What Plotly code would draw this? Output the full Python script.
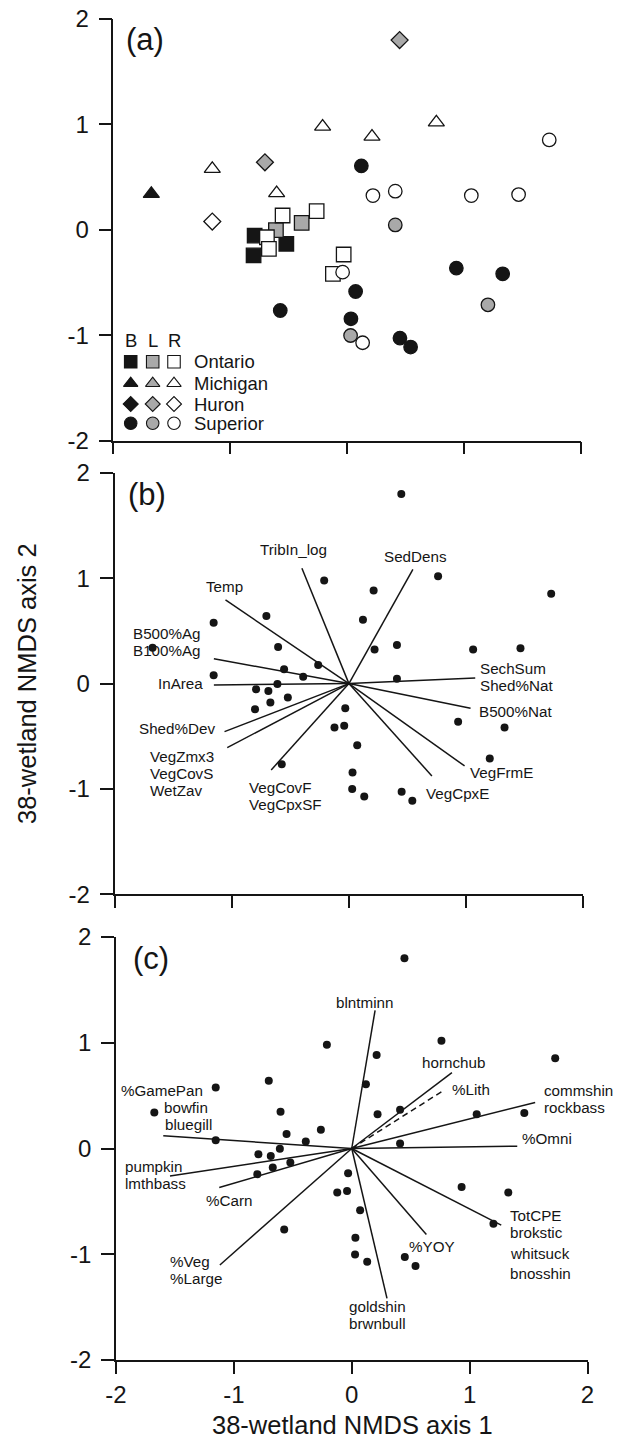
import plotly.graph_objects as go

# ---------------- data ----------------
site_x = [0.447, -0.211, 0.211, 0.761, 1.726, -1.154, -0.704, 0.120, -1.675, -0.604,
          0.219, 0.410, 1.060, 1.464, -1.154, -0.553, -0.262, -0.390, -0.610, 0.410,
          -0.792, -0.687, -0.521, -0.670, -0.801, -0.031, -0.123, -0.040, 0.932, 1.328,
          0.071, 1.202, -0.573, 0.031, 0.028, 0.131, 0.450, 0.541]
site_y = [1.800, 0.980, 0.885, 1.020, 0.853, 0.578, 0.641, 0.607, 0.341, 0.348,
          0.325, 0.367, 0.325, 0.335, 0.079, 0.136, 0.177, 0.066, -0.003, 0.047,
          -0.054, -0.070, -0.133, -0.180, -0.243, -0.234, -0.417, -0.401, -0.363, -0.417,
          -0.585, -0.711, -0.765, -0.844, -1.002, -1.071, -1.027, -1.112]
site_lake = ['Huron', 'Michigan', 'Michigan', 'Michigan', 'Superior', 'Michigan', 'Huron', 'Superior', 'Michigan', 'Michigan',
             'Superior', 'Superior', 'Superior', 'Superior', 'Huron', 'Ontario', 'Ontario', 'Ontario', 'Ontario', 'Superior',
             'Ontario', 'Ontario', 'Ontario', 'Ontario', 'Ontario', 'Ontario', 'Ontario', 'Superior', 'Superior', 'Superior',
             'Superior', 'Superior', 'Superior', 'Superior', 'Superior', 'Superior', 'Superior', 'Superior']
site_type = ['L', 'R', 'R', 'R', 'R', 'R', 'L', 'B', 'B', 'R',
             'R', 'R', 'R', 'R', 'R', 'R', 'R', 'L', 'L', 'L',
             'B', 'R', 'B', 'R', 'B', 'R', 'R', 'R', 'B', 'B',
             'B', 'L', 'B', 'B', 'L', 'R', 'B', 'B']

lakes = ['Ontario', 'Michigan', 'Huron', 'Superior']
types = ['B', 'L', 'R']

# environmental vectors (panel b)
env_labels = [['Temp'], ['TribIn_log'], ['SedDens'], ['B500%Ag', 'B100%Ag'], ['InArea'],
              ['Shed%Dev'], ['VegZmx3', 'VegCovS', 'WetZav'], ['VegCovF', 'VegCpxSF'],
              ['VegCpxE'], ['VegFrmE'], ['B500%Nat'], ['SechSum', 'Shed%Nat']]
env_x = [-1.053, -0.401, 0.546, -1.152, -1.152, -1.061, -1.038, -0.663, 0.708, 0.987, 1.038, 1.078]
env_y = [0.794, 1.095, 1.085, 0.237, -0.013, -0.456, -0.608, -0.820, -0.877, -0.782, -0.234, 0.054]

# fish vectors (panel c)
fish_labels = [['blntminn'], ['hornchub'], ['%Lith'], ['commshin', 'rockbass'], ['%Omni'],
               ['TotCPE', 'brokstic', 'whitsuck', 'bnosshin'], ['%YOY'], ['goldshin', 'brwnbull'],
               ['%Veg', '%Large'], ['%Carn'], ['pumpkin', 'lmthbass'], ['%GamePan', 'bowfin', 'bluegill']]
fish_x = [0.198, 0.850, 0.774, 1.556, 1.404, 1.268, 0.633, 0.299, -1.119, -1.124, -1.542, -1.599]
fish_y = [1.307, 0.718, 0.545, 0.435, 0.022, -0.724, -0.813, -1.417, -1.102, -0.369, -0.261, 0.120]
fish_dashed = [False, False, True, False, False, False, False, False, False, False, False, False]

tick_vals = [-2, -1, 0, 1, 2]
tick_text = ['-2', '-1', '0', '1', '2']

# ---------------- styles / layout ----------------
FONT = 'Liberation Sans, Arial, Helvetica, sans-serif'
W, H = 628, 1441
BLACK = '#151515'
GRAY = '#a9a9a9'
fill_of = {'B': BLACK, 'L': GRAY, 'R': 'white'}
symbol_of = {'Ontario': 'square', 'Michigan': 'triangle-up', 'Huron': 'diamond', 'Superior': 'circle'}
size_of = {'Ontario': 14.5, 'Michigan': 14, 'Huron': 13, 'Superior': 13.5}
legend_size_of = {'Ontario': 12.5, 'Michigan': 12.5, 'Huron': 11.5, 'Superior': 12.5}

# panel pixel boxes: (left, right, top, bottom)
boxes = {
    'a': (113.3, 581.3, 19.0, 440.7),
    'b': (114.5, 583.3, 473.0, 894.2),
    'c': (116.0, 587.5, 937.0, 1360.0),
}

# label placement for vector labels: (xanchor, dx per line (px), dy per line (px)) relative to the tip
env_label_pos = [
    ('center', [-1], [13]),
    ('center', [-8], [19]),
    ('center', [3], [13]),
    ('right', [-11, -11], [25, 8]),
    ('right', [-9], [1]),
    ('right', [-8], [3]),
    ('left', [-79, -79, -79], [-9, -26, -43]),
    ('left', [-24, -24], [-18, -35]),
    ('left', [-8], [-18]),
    ('left', [3], [-7]),
    ('left', [6], [-3]),
    ('left', [3, 3], [9, -8]),
]
fish_label_pos = [
    ('center', [-11], [8]),
    ('center', [2], [10]),
    ('left', [7], [1]),
    ('left', [7, 7], [12.5, -4.5]),
    ('left', [3], [8]),
    ('left', [7, 7, 7, 7], [10, -7, -28, -48]),
    ('center', [6], [-12]),
    ('left', [-40, -40], [-8, -25]),
    ('left', [-52, -52], [4, -13]),
    ('left', [-15], [-13]),
    ('left', [-47, -47], [10, -7]),
    ('left', [-44, -1, 0], [45, 28, 11]),
]

LABEL_FONT = 15.2
TICK_FONT = 24
TITLE_FONT = 25.5
PANEL_FONT = 31
LEGEND_FONT = 18.5

fig = go.Figure()

# ---- panel (a): sites by lake and wetland type ----
for t in types:
    for lk in lakes:
        xs = [x for x, l, ty in zip(site_x, site_lake, site_type) if l == lk and ty == t]
        ys = [y for y, l, ty in zip(site_y, site_lake, site_type) if l == lk and ty == t]
        if not xs:
            continue
        fig.add_trace(go.Scatter(
            x=xs, y=ys, mode='markers', xaxis='x', yaxis='y', showlegend=False,
            marker=dict(symbol=symbol_of[lk], size=size_of[lk], color=fill_of[t],
                        line=dict(color=BLACK, width=1.3)),
            hoverinfo='skip'))

# legend key for panel (a), drawn on an overlay axis measured in pixels from the panel corner
leg_cols = [17.4, 39.4, 60.7]
leg_rows = [342.7, 364.3, 385.0, 404.3]
leg_header_y = 321.0
leg_text_x = 79.0
for i, lk in enumerate(lakes):
    for j, t in enumerate(types):
        fig.add_trace(go.Scatter(
            x=[leg_cols[j]], y=[leg_rows[i]], mode='markers', xaxis='x4', yaxis='y4', showlegend=False,
            marker=dict(symbol=symbol_of[lk], size=legend_size_of[lk], color=fill_of[t],
                        line=dict(color=BLACK, width=1.1)),
            hoverinfo='skip'))

annotations = []
for j, t in enumerate(types):
    annotations.append(dict(x=leg_cols[j], y=leg_header_y, xref='x4', yref='y4', text=t, showarrow=False,
                            xanchor='center', yanchor='middle', font=dict(family=FONT, size=LEGEND_FONT, color=BLACK)))
for i, lk in enumerate(lakes):
    annotations.append(dict(x=leg_text_x, y=leg_rows[i], xref='x4', yref='y4', text=lk, showarrow=False,
                            xanchor='left', yanchor='middle', font=dict(family=FONT, size=LEGEND_FONT, color=BLACK)))


# ---- vectors + site dots for panels (b) and (c) ----
def add_vectors(vx, vy, labels, pos, xa, ya, dashed=None):
    solid_x, solid_y, dash_x, dash_y = [], [], [], []
    for k, (x, y) in enumerate(zip(vx, vy)):
        if dashed and dashed[k]:
            dash_x += [0, x, None]
            dash_y += [0, y, None]
        else:
            solid_x += [0, x, None]
            solid_y += [0, y, None]
    fig.add_trace(go.Scatter(x=solid_x, y=solid_y, mode='lines', xaxis=xa, yaxis=ya, showlegend=False,
                             line=dict(color=BLACK, width=1.5), hoverinfo='skip'))
    if dash_x:
        fig.add_trace(go.Scatter(x=dash_x, y=dash_y, mode='lines', xaxis=xa, yaxis=ya, showlegend=False,
                                 line=dict(color=BLACK, width=1.5, dash='6px,4px'), hoverinfo='skip'))
    fig.add_trace(go.Scatter(x=site_x, y=site_y, mode='markers', xaxis=xa, yaxis=ya, showlegend=False,
                             marker=dict(symbol='circle', size=8, color=BLACK), hoverinfo='skip'))
    for k, lines in enumerate(labels):
        anchor, dxs, dys = pos[k]
        for line, dx, dy in zip(lines, dxs, dys):
            annotations.append(dict(x=vx[k], y=vy[k], xref=xa, yref=ya, text=line, showarrow=False,
                                    xanchor=anchor, yanchor='middle', xshift=dx, yshift=dy,
                                    font=dict(family=FONT, size=LABEL_FONT, color=BLACK)))


add_vectors(env_x, env_y, env_labels, env_label_pos, 'x2', 'y2')
add_vectors(fish_x, fish_y, fish_labels, fish_label_pos, 'x3', 'y3', fish_dashed)

# ---- axes ----
def dom_x(b):
    return [b[0] / W, b[1] / W]


def dom_y(b):
    return [1 - b[3] / H, 1 - b[2] / H]


axis_common = dict(range=[-2, 2], showgrid=False, zeroline=False, showline=True, linecolor=BLACK,
                   linewidth=1.5, ticks='outside', tickwidth=1.5, tickcolor=BLACK,
                   tickvals=tick_vals, ticktext=tick_text,
                   tickfont=dict(family=FONT, size=TICK_FONT, color=BLACK), fixedrange=True)

layout_axes = {}
for idx, key in zip(['', '2', '3'], ['a', 'b', 'c']):
    b = boxes[key]
    layout_axes['xaxis' + idx] = dict(axis_common, domain=dom_x(b), anchor='y' + idx, ticklen=12,
                                      ticklabelstandoff=0, showticklabels=(key == 'c'))
    layout_axes['yaxis' + idx] = dict(axis_common, domain=dom_y(b), anchor='x' + idx, ticklen=13,
                                      ticklabelstandoff=5, showticklabels=True)

ba = boxes['a']
layout_axes['xaxis4'] = dict(domain=dom_x(ba), range=[0, ba[1] - ba[0]], anchor='y4', visible=False, fixedrange=True)
layout_axes['yaxis4'] = dict(domain=dom_y(ba), range=[ba[3] - ba[2], 0], anchor='x4', visible=False, fixedrange=True)

# panel letters
for idx, letter, dx in zip(['', '2', '3'], ['(a)', '(b)', '(c)'], [11, 11, 15]):
    annotations.append(dict(x=0, y=1, xref='x' + idx + ' domain', yref='y' + idx + ' domain', text=letter,
                            showarrow=False, xanchor='left', yanchor='middle', xshift=dx, yshift=-21,
                            font=dict(family=FONT, size=PANEL_FONT, color=BLACK)))

# axis titles
annotations.append(dict(x=352.5 / W, y=0, xref='paper', yref='paper', text='38-wetland NMDS axis 1',
                        showarrow=False, xanchor='center', yanchor='bottom', yshift=0,
                        font=dict(family=FONT, size=TITLE_FONT, color=BLACK)))
annotations.append(dict(x=27 / W, y=1 - 684 / H, xref='paper', yref='paper', text='38-wetland NMDS axis 2',
                        showarrow=False, xanchor='center', yanchor='middle', textangle=-90,
                        font=dict(family=FONT, size=TITLE_FONT, color=BLACK)))

fig.update_layout(width=W, height=H, margin=dict(l=0, r=0, t=0, b=0, pad=0, autoexpand=False),
                  paper_bgcolor='white', plot_bgcolor='rgba(0,0,0,0)', showlegend=False,
                  annotations=annotations, font=dict(family=FONT, color=BLACK), **layout_axes)

fig.write_html('out.html', config={'displayModeBar': False},
               post_script="document.body.style.margin='0';document.body.style.overflow='hidden';")
